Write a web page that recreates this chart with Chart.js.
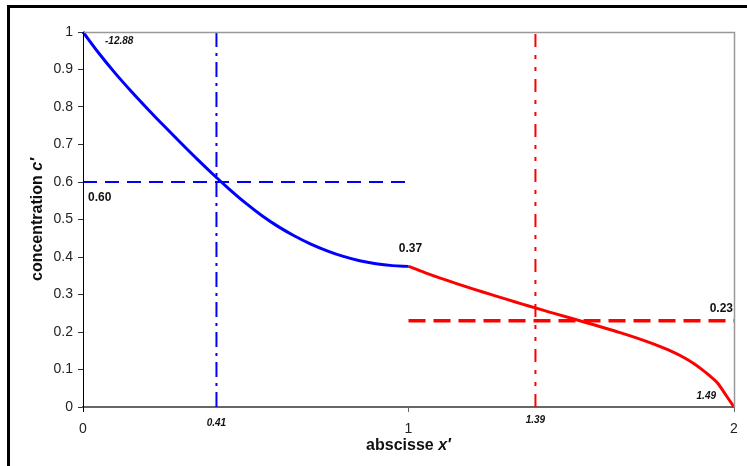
<!DOCTYPE html>
<html>
<head>
<meta charset="utf-8">
<script src="https://cdn.jsdelivr.net/npm/chart.js@4/dist/chart.umd.min.js"></script>
<style>
html,body{margin:0;padding:0;background:#fff;}
#wrap{width:747px;height:466px;position:relative;}
</style>
</head>
<body>
<div id="wrap"><canvas id="c" width="747" height="466"></canvas></div>
<script>
// ---- data ----
const blueX = [0,0.05,0.1,0.15,0.2,0.25,0.3,0.35,0.4,0.45,0.5,0.55,0.6,0.65,0.7,0.75,0.8,0.85,0.9,0.95,1];
const blueC = [1,0.942,0.889,0.840,0.7935,0.7485,0.7045,0.6615,0.620,0.5805,0.5435,0.510,0.481,0.456,0.4345,0.4165,0.4015,0.390,0.382,0.377,0.375];
const redX  = [1,1.05,1.1,1.15,1.2,1.25,1.3,1.35,1.4,1.45,1.5,1.55,1.6,1.65,1.7,1.75,1.8,1.85,1.875,1.9,1.925,1.95,1.975,2];
const redC  = [0.375,0.3585,0.343,0.3285,0.3145,0.301,0.2875,0.2745,0.2615,0.249,0.2365,0.224,0.2115,0.1985,0.1845,0.169,0.1515,0.130,0.1165,0.101,0.0835,0.0635,0.032,0];
const refBlueX = 0.41, refBlueC = 0.60;
const refRedX = 1.39, refRedC = 0.23;
const slopeStart = "-12.88", slopeEnd = "1.49";
const junctionLabel = "0.37";
const xTickValues = [0, 1, 2];
const yTickStep = 0.1;
const xTitle = ["abscisse ", "x\u2032"];
const yTitle = ["concentration ", "c\u2032"];

const FONT = "'Liberation Sans', Arial, Helvetica, sans-serif";
const pts = (xs, ys) => xs.map((x, i) => ({x: x, y: ys[i]}));

const framePlugin = {
  id: 'frame',
  beforeDraw(chart) {
    const ctx = chart.ctx;
    ctx.save();
    ctx.fillStyle = '#fff';
    ctx.fillRect(0, 0, chart.width, chart.height);
    ctx.fillStyle = '#000';
    ctx.fillRect(7, 5, 3, chart.height - 5);
    ctx.fillRect(7, 5, chart.width - 7, 3);
    ctx.restore();
  },
  afterDraw(chart) {
    const ctx = chart.ctx, a = chart.chartArea;
    const xs = chart.scales.x, ys = chart.scales.y;
    ctx.save();
    // plot area top / right border
    ctx.strokeStyle = '#999';
    ctx.lineWidth = 1.5;
    ctx.beginPath();
    ctx.moveTo(a.left, a.top + 0.5);
    ctx.lineTo(a.right + 0.5, a.top + 0.5);
    ctx.lineTo(a.right + 0.5, a.bottom);
    ctx.stroke();
    // left axis extends slightly below
    ctx.strokeStyle = '#000';
    ctx.lineWidth = 1;
    ctx.beginPath();
    ctx.moveTo(a.left + 0.5, a.top);
    ctx.lineTo(a.left + 0.5, a.bottom + 5);
    ctx.stroke();

    // value labels
    ctx.fillStyle = '#111';
    ctx.textBaseline = 'middle';
    ctx.font = 'italic bold 10px ' + FONT;
    ctx.textAlign = 'left';
    ctx.fillText(slopeStart, xs.getPixelForValue(0) + 22, ys.getPixelForValue(1) + 9);
    ctx.textAlign = 'right';
    ctx.fillText(slopeEnd, xs.getPixelForValue(2) - 18, ys.getPixelForValue(0) - 11);
    ctx.textAlign = 'center';
    ctx.fillText(refBlueX.toFixed(2), xs.getPixelForValue(refBlueX), a.bottom + 16);
    ctx.fillText(refRedX.toFixed(2), xs.getPixelForValue(refRedX), a.bottom + 13);

    ctx.font = 'bold 12px ' + FONT;
    ctx.textAlign = 'left';
    ctx.fillText(refBlueC.toFixed(2), xs.getPixelForValue(0) + 5, ys.getPixelForValue(refBlueC) + 16);
    ctx.textAlign = 'center';
    ctx.fillText(junctionLabel, xs.getPixelForValue(1) + 2, ys.getPixelForValue(redC[0]) - 18);
    ctx.textAlign = 'right';
    ctx.fillText(refRedC.toFixed(2), xs.getPixelForValue(2) - 1, ys.getPixelForValue(refRedC) - 12);

    // axis titles with mixed styles
    function mixed(parts, cx, cy, rot) {
      ctx.save();
      ctx.translate(cx, cy);
      if (rot) ctx.rotate(-Math.PI / 2);
      const f1 = 'bold 16px ' + FONT, f2 = 'italic bold 16px ' + FONT;
      ctx.font = f1; const w1 = ctx.measureText(parts[0]).width;
      ctx.font = f2; const w2 = ctx.measureText(parts[1]).width;
      let x0 = -(w1 + w2) / 2;
      ctx.fillStyle = '#111';
      ctx.textAlign = 'left';
      ctx.textBaseline = 'middle';
      ctx.font = f1; ctx.fillText(parts[0], x0, 0);
      ctx.font = f2; ctx.fillText(parts[1], x0 + w1, 0);
      ctx.restore();
    }
    mixed(xTitle, (a.left + a.right) / 2, 446, false);
    mixed(yTitle, 38, (a.top + a.bottom) / 2, true);
    ctx.restore();
  }
};

const chart = new Chart(document.getElementById('c'), {
  type: 'scatter',
  data: {
    datasets: [
      { data: [{x: 0, y: refBlueC}, {x: 1, y: refBlueC}], showLine: true, borderColor: '#0000ff', borderWidth: 2, borderDash: [14, 8], pointRadius: 0, clip: false },
      { data: [{x: refBlueX, y: 0}, {x: refBlueX, y: 1}], showLine: true, borderColor: '#0000ff', borderWidth: 2, borderDash: [15, 6, 3, 6], pointRadius: 0, clip: false },
      { data: [{x: 1, y: refRedC}, {x: 2, y: refRedC}], showLine: true, borderColor: '#ff0000', borderWidth: 3.5, borderDash: [17, 8], pointRadius: 0, clip: false },
      { data: [{x: refRedX, y: 0}, {x: refRedX, y: 1}], showLine: true, borderColor: '#ff0000', borderWidth: 2, borderDash: [13, 8, 4, 8, 4, 8], pointRadius: 0, clip: false },
      { data: pts(blueX, blueC), showLine: true, borderColor: '#0000ff', borderWidth: 3, pointRadius: 0, cubicInterpolationMode: 'monotone', clip: false },
      { data: pts(redX, redC), showLine: true, borderColor: '#ff0000', borderWidth: 3, pointRadius: 0, cubicInterpolationMode: 'monotone', clip: false }
    ]
  },
  options: {
    responsive: false,
    devicePixelRatio: 1,
    animation: false,
    layout: { padding: { left: 0, top: 32, right: 13, bottom: 0 } },
    plugins: { legend: { display: false }, tooltip: { enabled: false } },
    scales: {
      x: {
        type: 'linear', min: 0, max: 2,
        afterBuildTicks: (s) => { s.ticks = xTickValues.map(v => ({value: v})); },
        ticks: { color: '#222', font: { family: FONT, size: 14 }, padding: 9, maxRotation: 0,
                 callback: (v) => String(v) },
        grid: { display: true, drawOnChartArea: false, drawTicks: true, tickLength: 5, tickColor: '#666', lineWidth: 1 },
        border: { display: true, color: '#666', width: 2 },
        afterFit: (s) => { s.height = 59; }
      },
      y: {
        type: 'linear', min: 0, max: 1,
        ticks: { stepSize: yTickStep, color: '#222', font: { family: FONT, size: 14 }, padding: 5,
                 callback: (v) => String(Number(v.toFixed(1))) },
        grid: { display: true, drawOnChartArea: false, drawTicks: true, tickLength: 5, tickColor: '#333', lineWidth: 1 },
        border: { display: true, color: '#000', width: 1 },
        afterFit: (s) => { s.width = 83; }
      }
    }
  },
  plugins: [framePlugin]
});
</script>
</body>
</html>
